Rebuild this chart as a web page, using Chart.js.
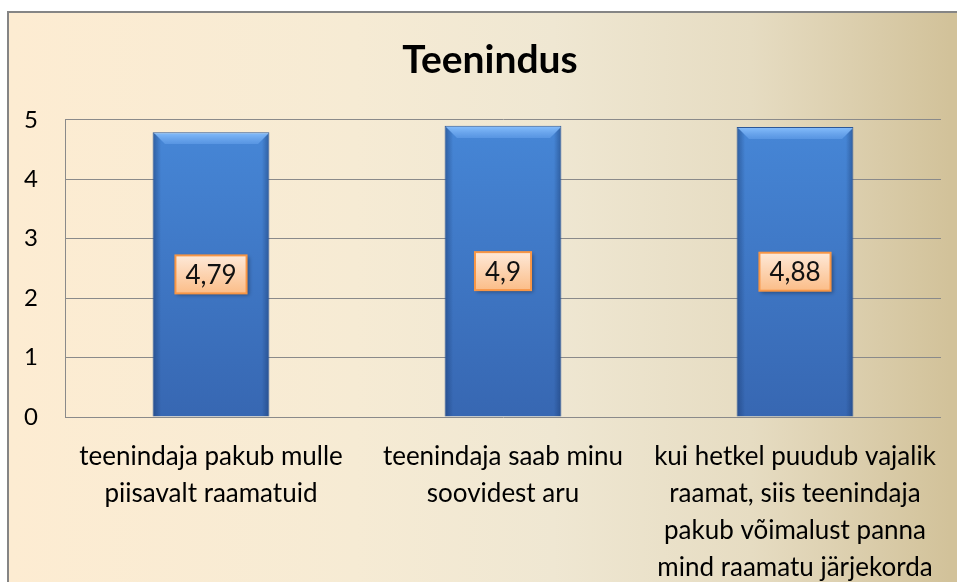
<!DOCTYPE html>
<html>
<head>
<meta charset="utf-8">
<script src="https://cdn.jsdelivr.net/npm/chart.js@4"></script>
<style>
  html, body { margin: 0; padding: 0; width: 957px; height: 582px; overflow: hidden; background: #fff; }
  #frame {
    position: absolute; left: 7px; top: 11px; width: 990px; height: 600px;
    border-left: 2px solid #858585; border-top: 2px solid #858585;
    background: linear-gradient(to right, #fdecd2 0%, #f6ebd4 35%, #efe7d2 55%, #e6dcc2 75%, #d2c29a 95%);
  }
  #wrap { position: absolute; left: 0; top: 0; width: 981px; height: 582px; }
</style>
</head>
<body>
<div id="frame"></div>
<div id="wrap"><canvas id="myChart"></canvas></div>
<script>
const chartTitle = 'Teenindus';
const categories = [
    ['teenindaja pakub mulle', 'piisavalt raamatuid'],
    ['teenindaja saab minu', 'soovidest aru'],
    ['kui hetkel puudub vajalik', 'raamat, siis teenindaja', 'pakub võimalust panna', 'mind raamatu järjekorda']
];
const scores = [4.79, 4.9, 4.88];
const scoreLabels = ['4,79', '4,9', '4,88'];
const yTicks = [0, 1, 2, 3, 4, 5];

const FONT = 'Lato, "DejaVu Sans", sans-serif';
const BAR_PCT = 0.4;

// bevelled blue fill, built as a pattern aligned on the bar that the scales give
function barFill(c) {
    const chart = c.chart;
    const area = chart.chartArea;
    if (!area || c.type !== 'data') return '#3e78c6';
    const xs = chart.scales.x, ys = chart.scales.y;
    const w = Math.round(xs.width / categories.length * BAR_PCT);
    const left = Math.round(xs.getPixelForValue(c.dataIndex) - w / 2);
    const top = Math.round(ys.getPixelForValue(scores[c.dataIndex]));
    const h = Math.max(1, Math.round(ys.getPixelForValue(0)) - top);
    const off = document.createElement('canvas');
    off.width = w; off.height = h;
    const o = off.getContext('2d');
    const v = o.createLinearGradient(0, 0, 0, h);
    v.addColorStop(0, '#4686d6');
    v.addColorStop(1, '#3767b2');
    o.fillStyle = v;
    o.fillRect(0, 0, w, h);
    const sides = o.createLinearGradient(0, 0, w, 0);
    sides.addColorStop(0, 'rgba(20,50,100,0.45)');
    sides.addColorStop(0.07, 'rgba(20,50,100,0)');
    sides.addColorStop(0.93, 'rgba(20,50,100,0)');
    sides.addColorStop(1, 'rgba(20,50,100,0.5)');
    o.fillStyle = sides;
    o.fillRect(0, 0, w, h);
    const b = 12;
    const bev = o.createLinearGradient(0, 0, 0, b);
    bev.addColorStop(0, 'rgba(140,195,255,0.95)');
    bev.addColorStop(1, 'rgba(100,160,235,0.6)');
    o.fillStyle = bev;
    o.beginPath();
    o.moveTo(0, 0); o.lineTo(w, 0); o.lineTo(w - b, b); o.lineTo(b, b);
    o.closePath();
    o.fill();
    const p = chart.ctx.createPattern(off, 'no-repeat');
    p.setTransform(new DOMMatrix().translate(left, top));
    return p;
}

// orange value boxes in the middle of each bar
const boxLabels = {
    id: 'boxLabels',
    afterLayout(chart) {
        // title is centred on the whole frame, not the plot
        if (chart.titleBlock) chart.titleBlock.left = 39;
    },
    afterDatasetsDraw(chart) {
        const ctx = chart.ctx;
        const meta = chart.getDatasetMeta(0);
        ctx.save();
        ctx.font = '26px ' + FONT;
        meta.data.forEach((bar, i) => {
            const txt = scoreLabels[i];
            const cy = (bar.y + bar.base) / 2;
            const w = ctx.measureText(txt).width + 20;
            const h = 38;
            const x0 = bar.x - w / 2, y0 = cy - h / 2;
            ctx.shadowColor = 'rgba(0,0,0,0.35)';
            ctx.shadowBlur = 4;
            ctx.shadowOffsetX = 2;
            ctx.shadowOffsetY = 2;
            const g = ctx.createLinearGradient(0, y0, 0, y0 + h);
            g.addColorStop(0, '#fee9d8');
            g.addColorStop(1, '#fbbd88');
            ctx.fillStyle = g;
            ctx.fillRect(x0, y0, w, h);
            ctx.shadowColor = 'transparent';
            ctx.lineWidth = 2;
            ctx.strokeStyle = '#f79646';
            ctx.strokeRect(x0, y0, w, h);
            ctx.fillStyle = '#111';
            ctx.textAlign = 'center';
            ctx.textBaseline = 'middle';
            ctx.fillText(txt, bar.x, cy + 1);
        });
        ctx.restore();
    }
};

const ctx = document.getElementById('myChart');

new Chart(ctx, {
    type: 'bar',
    data: {
        labels: categories,
        datasets: [{
            data: scores,
            backgroundColor: barFill,
            borderColor: '#2d5796',
            borderWidth: 1,
            categoryPercentage: 1,
            barPercentage: BAR_PCT
        }]
    },
    options: {
        responsive: true,
        maintainAspectRatio: false,
        animation: false,
        layout: { padding: { left: 0, right: 40, top: 0, bottom: 0 } },
        plugins: {
            legend: { display: false },
            tooltip: { enabled: false },
            title: {
                display: true,
                text: chartTitle,
                color: '#000',
                font: { family: FONT, size: 39, weight: 'bold', lineHeight: 1.2 },
                padding: { top: 37, bottom: 36 }
            }
        },
        scales: {
            x: {
                grid: { display: false },
                border: { display: false },
                ticks: {
                    color: '#000',
                    maxRotation: 0,
                    autoSkip: false,
                    padding: 13,
                    font: { family: FONT, size: 26, lineHeight: 1.42 }
                },
                afterFit: (s) => { s.height = 165; }
            },
            y: {
                min: 0,
                max: 5,
                afterBuildTicks: (s) => { s.ticks = yTicks.map(v => ({ value: v })); },
                grid: { color: '#8a8a8a', lineWidth: 1, drawTicks: false },
                border: { display: true, color: '#8a8a8a', width: 1 },
                ticks: {
                    color: '#000',
                    padding: 27,
                    font: { family: FONT, size: 24 }
                },
                afterFit: (s) => { s.width = 65; }
            }
        }
    },
    plugins: [boxLabels]
});
</script>
</body>
</html>
